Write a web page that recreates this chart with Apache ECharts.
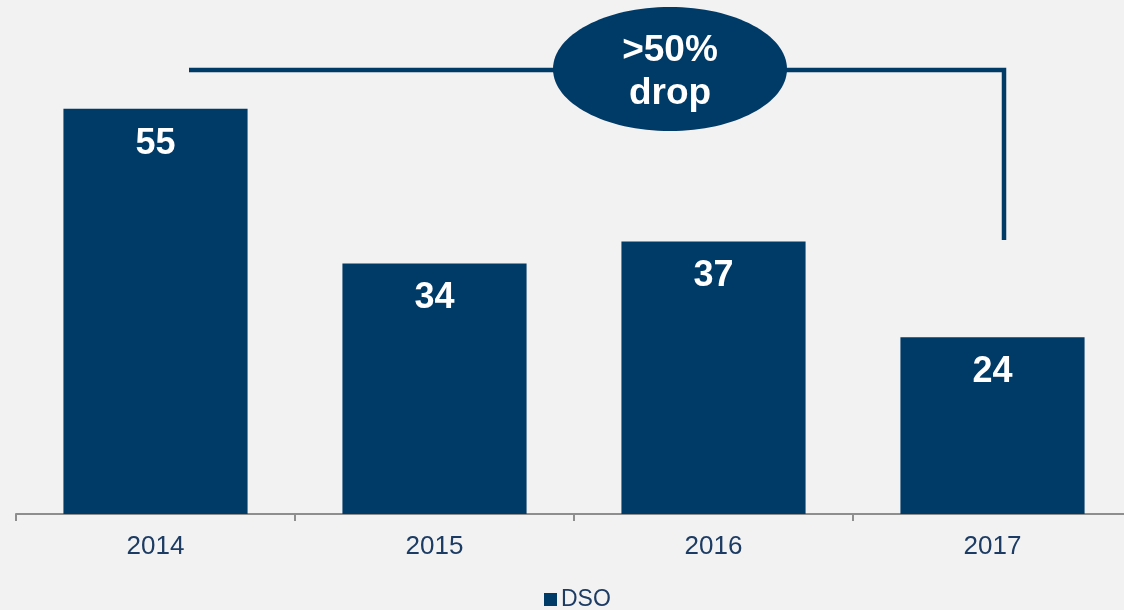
<!DOCTYPE html>
<html>
<head>
<meta charset="utf-8">
<script src="https://cdn.jsdelivr.net/npm/echarts@6/dist/echarts.min.js"></script>
<style>
html,body{margin:0;padding:0;background:#f2f2f2;overflow:hidden;width:1124px;height:610px;}
#c{width:1132px;height:610px;}
</style>
</head>
<body>
<div id="c"></div>
<script>
const categories = ['2014', '2015', '2016', '2017'];
const dsoValues = [55, 34, 37, 24];
const seriesName = 'DSO';
const calloutText = '>50%\ndrop';

const navy = '#003a66';
const chart = echarts.init(document.getElementById('c'));
chart.setOption({
  backgroundColor: '#f2f2f2',
  animation: false,
  textStyle: { fontFamily: 'Liberation Sans, Arial, sans-serif' },
  grid: { left: 16, right: 0, top: 72, bottom: 96, containLabel: false },
  legend: {
    data: [seriesName],
    left: 544,
    top: 588,
    padding: 0,
    icon: 'rect',
    itemWidth: 13,
    itemHeight: 13,
    itemGap: 5,
    textStyle: { fontSize: 23, color: '#1d3c63', fontFamily: 'Liberation Sans, Arial, sans-serif', padding: [0, 0, 0, -1] }
  },
  xAxis: {
    type: 'category',
    data: categories,
    axisLine: { lineStyle: { color: '#8e8e8e', width: 2 } },
    axisTick: { show: true, length: 7, lineStyle: { color: '#8e8e8e', width: 2 } },
    axisLabel: { fontSize: 26, color: '#1d3c63', margin: 20 }
  },
  yAxis: {
    type: 'value',
    min: 0,
    max: 60,
    show: false,
    splitLine: { show: false }
  },
  series: [{
    name: seriesName,
    type: 'bar',
    data: dsoValues,
    barWidth: '66%',
    itemStyle: { color: navy },
    label: {
      show: true,
      position: 'insideTop',
      distance: 17,
      color: '#ffffff',
      fontSize: 36,
      fontWeight: 'bold'
    }
  }],
  graphic: [
    {
      type: 'polyline',
      shape: { points: [[189, 70], [1004, 70], [1004, 240]] },
      style: { stroke: navy, lineWidth: 4.5, fill: null },
      z: 10
    },
    {
      type: 'ellipse',
      shape: { cx: 670, cy: 69, rx: 117, ry: 62 },
      style: { fill: navy },
      z: 11
    },
    {
      type: 'text',
      x: 670,
      y: 72,
      style: {
        text: calloutText,
        fill: '#ffffff',
        font: 'bold 37px Liberation Sans, Arial, sans-serif',
        align: 'center',
        verticalAlign: 'middle',
        lineHeight: 43
      },
      z: 12
    }
  ]
});
</script>
</body>
</html>
